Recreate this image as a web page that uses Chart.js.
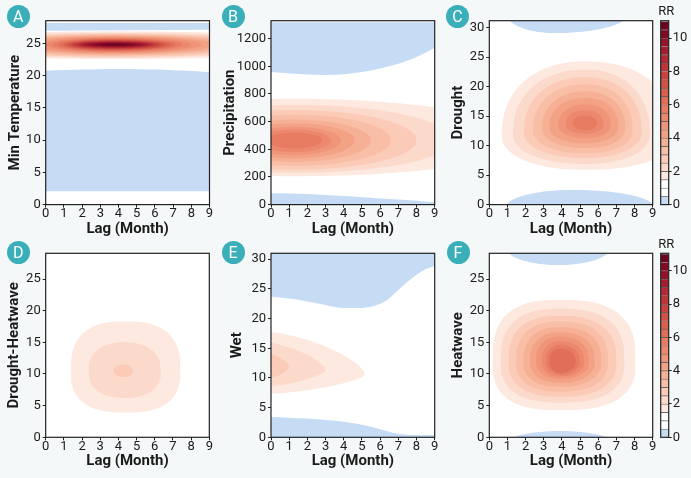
<!DOCTYPE html>
<html>
<head>
<meta charset="utf-8">
<title>Lag-response RR contours</title>
<script src="https://cdn.jsdelivr.net/npm/chart.js@4.4.1/dist/chart.umd.min.js"></script>
<style>
  html, body { margin: 0; padding: 0; background: #f5f8f8; }
  #board { position: relative; width: 691px; height: 478px; overflow: hidden; }
  #board canvas { position: absolute; left: 0; top: 0; }
  .badge { position: absolute; width: 23px; height: 23px; margin: -11.5px 0 0 -11.5px; border-radius: 50%;
           background: #3aafb9; color: #fff; font: 16px Roboto, sans-serif; line-height: 23px; text-align: center; }
</style>
</head>
<body>
<div id="board"></div>
<script>
// ---- values ----
const lagTicks = [0, 1, 2, 3, 4, 5, 6, 7, 8, 9];
const panelLetters = ['A', 'B', 'C', 'D', 'E', 'F'];
const yTitles = ['Min Temperature', 'Precipitation', 'Drought', 'Drought-Heatwave', 'Wet', 'Heatwave'];
const yMaxes = [28.5, 1330, 31.2, 29.06, 31.0, 29.06];
const yTickSets = [
    [0, 5, 10, 15, 20, 25],
    [0, 200, 400, 600, 800, 1000, 1200],
    [0, 5, 10, 15, 20, 25, 30],
    [0, 5, 10, 15, 20, 25],
    [0, 5, 10, 15, 20, 25, 30],
    [0, 5, 10, 15, 20, 25]
];

// colour key: RR band edges and the fill of each band
const rrLevels = [0, 0.5, 1, 1.5, 2, 2.5, 3, 3.5, 4, 4.5, 5, 5.5, 6, 6.5, 7, 7.5, 8, 8.5, 9, 9.5, 10, 10.5, 11];
const rrColors = ['#c6dcf5', '#ffffff', '#ffffff', '#fde9df', '#fcdacb', '#fbcbb8', '#f9bea6', '#f6b096',
                  '#f3a286', '#f09579', '#ec886d', '#e77c62', '#e06e58', '#d95f4e', '#d05146', '#c8433f',
                  '#be3539', '#b22834', '#a41c30', '#94122b', '#820a26', '#6e0421'];
const rrTicks = [0, 2, 4, 6, 8, 10];

// contour rings: [RR level, lag left, lag right, value bottom, value top, lag centre, value centre, squareness]
const ringsA = [
    [1.5, -8, 16, 22.55, 26.85, 3.7, 24.8, 2], [2.0, -6, 14, 22.75, 26.65, 3.7, 24.8, 2],
    [2.5, -4.5, 12.5, 22.9, 26.5, 3.7, 24.8, 2], [3.0, -3.2, 11.2, 23.07, 26.37, 3.7, 24.8, 2],
    [3.5, -2.2, 10.2, 23.22, 26.23, 3.7, 24.8, 2], [4.0, -1.3, 9.3, 23.35, 26.11, 3.7, 24.8, 2],
    [4.5, -0.6, 8.6, 23.48, 26.0, 3.7, 24.8, 2], [5.0, 0.0, 8.0, 23.6, 25.88, 3.7, 24.8, 2],
    [5.5, 0.4, 7.5, 23.72, 25.78, 3.7, 24.8, 2], [6.0, 0.7, 7.1, 23.82, 25.68, 3.7, 24.8, 2],
    [6.5, 1.0, 6.8, 23.93, 25.59, 3.7, 24.8, 2], [7.0, 1.2, 6.5, 24.02, 25.5, 3.7, 24.8, 2],
    [7.5, 1.4, 6.25, 24.12, 25.42, 3.7, 24.8, 2], [8.0, 1.6, 6.0, 24.2, 25.34, 3.7, 24.8, 2],
    [8.5, 1.8, 5.8, 24.29, 25.27, 3.7, 24.8, 2], [9.0, 2.0, 5.6, 24.37, 25.19, 3.7, 24.8, 2],
    [9.5, 2.25, 5.3, 24.45, 25.11, 3.7, 24.8, 2], [10.0, 2.6, 4.95, 24.54, 25.04, 3.7, 24.8, 2],
    [10.5, 3.0, 4.5, 24.63, 24.95, 3.7, 24.8, 2]
];
const ringsB = [
    [1.5, -11, 14, 205, 765, 1.3, 465, 2], [2.0, -7.5, 10, 230, 722, 1.3, 465, 2],
    [2.5, -5.5, 8.0, 252, 684, 1.3, 465, 2], [3.0, -4.0, 6.6, 280, 650, 1.3, 465, 2],
    [3.5, -3.0, 5.5, 308, 615, 1.3, 465, 2], [4.0, -2.2, 4.6, 334, 588, 1.3, 465, 2],
    [4.5, -1.5, 3.85, 358, 563, 1.3, 465, 2], [5.0, -0.9, 3.3, 380, 542, 1.3, 465, 2],
    [5.5, -0.3, 2.8, 406, 522, 1.3, 465, 2]
];
const ringsC = [
    [1.5, 0.68, 10.3, 5.9, 24.3, 5.3, 11.8, 2.2], [2.0, 1.3, 8.85, 6.9, 22.9, 5.3, 12.1, 2.2],
    [2.5, 1.9, 8.4, 7.9, 21.6, 5.3, 12.4, 2.2], [3.0, 2.4, 7.9, 8.7, 20.4, 5.3, 12.7, 2.2],
    [3.5, 2.9, 7.5, 9.6, 19.2, 5.3, 13.0, 2.2], [4.0, 3.3, 7.1, 10.4, 18.1, 5.3, 13.25, 2.2],
    [4.5, 3.8, 6.7, 11.3, 17.0, 5.3, 13.5, 2.2], [5.0, 4.2, 6.3, 12.0, 16.0, 5.3, 13.7, 2.2],
    [5.5, 4.6, 5.95, 12.6, 15.1, 5.3, 13.9, 2.2]
];
const ringsD = [
    [1.5, 1.37, 7.42, 3.9, 18.3, 4.4, 10.6, 2.6],
    [2.0, 2.35, 6.34, 6.2, 15.0, 4.35, 10.5, 2.3],
    [2.5, 3.72, 4.82, 9.5, 11.5, 4.27, 10.5, 2.0]
];
const ringsE = [
    [1.5, -6.2, 5.17, 7.25, 17.9, -0.5, 10.6, 1.5],
    [2.0, -4.0, 3.0, 8.5, 16.1, -0.5, 11.3, 1.5],
    [2.5, -2.0, 1.0, 9.8, 14.3, -0.5, 11.8, 1.6]
];
const ringsF = [
    [1.5, 0.17, 8.06, 4.3, 21.7, 3.9, 12.1, 2.7], [2.0, 0.62, 7.45, 5.5, 20.3, 3.9, 12.1, 2.6],
    [2.5, 1.05, 7.01, 6.4, 19.2, 3.9, 12.1, 2.5], [3.0, 1.47, 6.55, 7.2, 18.3, 3.9, 12.1, 2.45],
    [3.5, 1.87, 6.18, 8.0, 17.4, 3.9, 12.1, 2.4], [4.0, 2.24, 5.82, 8.6, 16.6, 3.9, 12.1, 2.3],
    [4.5, 2.57, 5.5, 9.2, 15.9, 3.9, 12.1, 2.25], [5.0, 2.88, 5.23, 9.6, 15.2, 3.9, 12.1, 2.2],
    [5.5, 3.12, 4.99, 9.9, 14.6, 3.9, 12.1, 2.1], [6.0, 3.3, 4.77, 10.1, 14.05, 3.9, 12.1, 2.0]
];
// RR below 1 (blue) patches shaped like rings
const blueC = [[0, 1.0, 7.6, 29.1, 35.3, 3.6, 32.2, 2], [0, 0.9, 9.1, -3.5, 2.5, 4.6, -0.5, 2]];
const blueF = [[0, 0.9, 6.7, 27.2, 32.8, 3.8, 30.0, 2], [0, 0.65, 7.15, -4.0, 1.0, 3.9, -1.5, 2]];
// RR below 1 (blue) bands: [lag, value] along the edge
const blueEdgeA1 = [[0, 20.75], [1, 20.85], [2, 20.92], [3, 20.97], [4, 21.0], [5, 20.98], [6, 20.92], [7, 20.83], [8, 20.7], [9, 20.5]];
const blueEdgeA2 = [[0, 26.95], [9, 27.1]];
const blueEdgeB1 = [[0, 959], [1, 948], [2, 941], [3, 937], [4, 943], [5, 959], [6, 985], [7, 1019], [8, 1067], [9, 1135]];
const blueEdgeB2 = [[0, 82], [1, 80], [2, 76], [3, 70], [4, 62], [5, 53], [6, 45], [7, 36], [8, 27], [9, 17]];
const blueEdgeE1 = [[0, 23.7], [1, 23.4], [2, 22.9], [3, 22.3], [4, 21.8], [5, 21.8], [6, 22.5], [6.5, 23.4], [7, 24.8], [7.5, 26.2], [8, 27.4], [8.5, 28.3], [9, 28.9]];
const blueEdgeE2 = [[0, 3.4], [1, 3.3], [2, 3.15], [3, 2.9], [4, 2.6], [5, 2.1], [6, 1.35], [6.5, 0.95], [7, 0.6], [8, 0.4], [9, 0.4]];

// ---- layout (pixels) ----
const frames = [
    {l: 45.7, r: 209.5, t: 20.7, b: 204.6, titleOff: 30.7},
    {l: 271, r: 434.7, t: 20.7, b: 204.6, titleOff: 41},
    {l: 489.3, r: 652.7, t: 20.7, b: 204.6, titleOff: 30.8},
    {l: 45.7, r: 209.3, t: 253.3, b: 437.3, titleOff: 31.5},
    {l: 271, r: 434.7, t: 253.3, b: 437.3, titleOff: 33.5},
    {l: 489.3, r: 652.7, t: 253.3, b: 437.3, titleOff: 30.8}
];
const keyFrames = [{l: 660.7, r: 668.7, t: 20.7, b: 204.6}, {l: 660.7, r: 668.7, t: 253.3, b: 437.3}];
const badgeSpots = [[18.3, 16.7], [233, 16.7], [457.5, 16.7], [18.3, 252.3], [233, 252.3], [458, 252.3]];

Chart.defaults.font.family = 'Roboto, "DejaVu Sans", sans-serif';
Chart.defaults.color = '#1b1b1b';

const board = document.getElementById('board');
const INK = '#1b1b1b';

function newCanvas() {
    const c = document.createElement('canvas');
    c.width = 691;
    c.height = 478;
    c.style.width = '691px';
    c.style.height = '478px';
    board.appendChild(c);
    return c.getContext('2d');
}

// white plot background and black box round it
const framePlugin = {
    id: 'frame',
    beforeDraw(chart) {
        const a = chart.chartArea, ctx = chart.ctx;
        ctx.save();
        ctx.fillStyle = '#ffffff';
        ctx.fillRect(a.left, a.top, a.right - a.left, a.bottom - a.top);
        ctx.restore();
    },
    afterDraw(chart) {
        const a = chart.chartArea, ctx = chart.ctx;
        ctx.save();
        ctx.strokeStyle = '#222';
        ctx.lineWidth = 1.2;
        ctx.strokeRect(a.left, a.top, a.right - a.left, a.bottom - a.top);
        ctx.restore();
    }
};

// "RR" heading over the colour key (an axis title would be squeezed to the bar width)
const keyTitlePlugin = {
    id: 'keyTitle',
    afterDraw(chart) {
        const a = chart.chartArea, ctx = chart.ctx;
        ctx.save();
        ctx.fillStyle = INK;
        ctx.font = '13px Roboto, sans-serif';
        ctx.textAlign = 'center';
        ctx.textBaseline = 'middle';
        ctx.fillText('RR', (a.left + a.right) / 2 + 1.5, a.top - 8.5);
        ctx.restore();
    }
};

// upper and lower edge of a ring, both running left to right
function ringEdges(r) {
    const [lv, xl, xr, yb, yt, cx, cy, n] = r;
    const up = [], down = [];
    const steps = 64;
    for (let k = 0; k <= steps; k++) {
        const t = Math.PI * (1 - k / steps);
        const c = Math.cos(t), s = Math.abs(Math.sin(t));
        const ex = Math.sign(c) * Math.pow(Math.abs(c), 2 / n);
        const ey = Math.pow(s, 2 / n);
        const x = cx + ex * (c >= 0 ? xr - cx : cx - xl);
        up.push({x: x, y: cy + ey * (yt - cy)});
        down.push({x: x, y: cy - ey * (cy - yb)});
    }
    return [up, down];
}

function ringSets(rings) {
    const out = [];
    // innermost first, so it is painted last
    for (let i = rings.length - 1; i >= 0; i--) {
        const [up, down] = ringEdges(rings[i]);
        const col = rrColors[Math.round(rings[i][0] * 2)];
        out.push({data: up, backgroundColor: col, fill: '+1'});
        out.push({data: down, fill: false});
    }
    return out;
}

function bandSet(edge, target) {
    return {
        data: edge.map(p => ({x: p[0], y: p[1]})),
        backgroundColor: rrColors[0],
        fill: target,
        cubicInterpolationMode: 'monotone'
    };
}

function drawPanel(i, rings, blues, bands) {
    const f = frames[i];
    const W = f.titleOff + 9;
    const H = 33.4;
    const datasets = [...ringSets(rings), ...ringSets(blues), ...bands];
    datasets.forEach(d => { d.borderWidth = 0; d.borderColor = 'rgba(0,0,0,0)'; d.pointRadius = 0; });
    new Chart(newCanvas(), {
        type: 'line',
        data: {datasets: datasets},
        options: {
            responsive: false,
            animation: false,
            events: [],
            layout: {padding: {left: f.l - W, right: 691 - f.r, top: f.t, bottom: 478 - f.b - H}},
            plugins: {legend: {display: false}, tooltip: {enabled: false}},
            scales: {
                x: {
                    type: 'linear', min: 0, max: 9,
                    afterFit: s => { s.height = H; },
                    afterBuildTicks: s => { s.ticks = lagTicks.map(v => ({value: v})); },
                    ticks: {font: {size: 13, lineHeight: 1}, padding: 0, color: INK, callback: v => String(v)},
                    grid: {drawOnChartArea: false, tickLength: 3, color: '#222'},
                    border: {display: false},
                    title: {display: true, text: 'Lag (Month)', color: INK, font: {size: 15, weight: 'bold'}, padding: 0}
                },
                y: {
                    type: 'linear', min: 0, max: yMaxes[i],
                    afterFit: s => { s.width = W; },
                    afterBuildTicks: s => { s.ticks = yTickSets[i].map(v => ({value: v})); },
                    ticks: {font: {size: 13}, padding: 2, color: INK, callback: v => String(v)},
                    grid: {drawOnChartArea: false, tickLength: 3, color: '#222'},
                    border: {display: false},
                    title: {display: true, text: yTitles[i], color: INK, font: {size: 15, weight: 'bold'}, padding: 0}
                }
            }
        },
        plugins: [framePlugin]
    });
}

function drawKey(k) {
    const f = keyFrames[k];
    const topH = 16, W = 22;
    const datasets = rrColors.map((c, i) => ({
        data: [[rrLevels[i], rrLevels[i + 1]]],
        backgroundColor: c,
        borderColor: 'rgba(70,70,70,0.8)',
        borderWidth: {top: 0.9, bottom: 0, left: 0, right: 0},
        borderSkipped: false,
        grouped: false,
        barPercentage: 1,
        categoryPercentage: 1
    }));
    new Chart(newCanvas(), {
        type: 'bar',
        data: {labels: ['RR'], datasets: datasets},
        options: {
            responsive: false,
            animation: false,
            events: [],
            layout: {padding: {left: f.l, right: 691 - f.r - W, top: f.t - topH, bottom: 478 - f.b}},
            plugins: {legend: {display: false}, tooltip: {enabled: false}},
            scales: {
                x: {
                    position: 'top',
                    afterFit: s => { s.height = topH; },
                    ticks: {display: false},
                    grid: {display: false},
                    border: {display: false}
                },
                y: {
                    position: 'right', min: 0, max: 11.05,
                    afterFit: s => { s.width = W; },
                    afterBuildTicks: s => { s.ticks = rrTicks.map(v => ({value: v})); },
                    ticks: {font: {size: 13}, padding: 1, color: INK, callback: v => String(v)},
                    grid: {drawOnChartArea: false, tickLength: 3, color: '#222'},
                    border: {display: false}
                }
            }
        },
        plugins: [framePlugin, keyTitlePlugin]
    });
}

drawPanel(0, ringsA, [], [bandSet(blueEdgeA1, {value: 2.05}), bandSet(blueEdgeA2, {value: 28.15})]);
drawPanel(1, ringsB, [], [bandSet(blueEdgeB1, {value: 1318}), bandSet(blueEdgeB2, 'origin')]);
drawPanel(2, ringsC, blueC, []);
drawPanel(3, ringsD, [], []);
drawPanel(4, ringsE, [], [bandSet(blueEdgeE1, 'end'), bandSet(blueEdgeE2, 'origin')]);
drawPanel(5, ringsF, blueF, []);
drawKey(0);
drawKey(1);

badgeSpots.forEach((p, i) => {
    const b = document.createElement('div');
    b.className = 'badge';
    b.style.left = p[0] + 'px';
    b.style.top = p[1] + 'px';
    b.textContent = panelLetters[i];
    board.appendChild(b);
});
</script>
</body>
</html>
